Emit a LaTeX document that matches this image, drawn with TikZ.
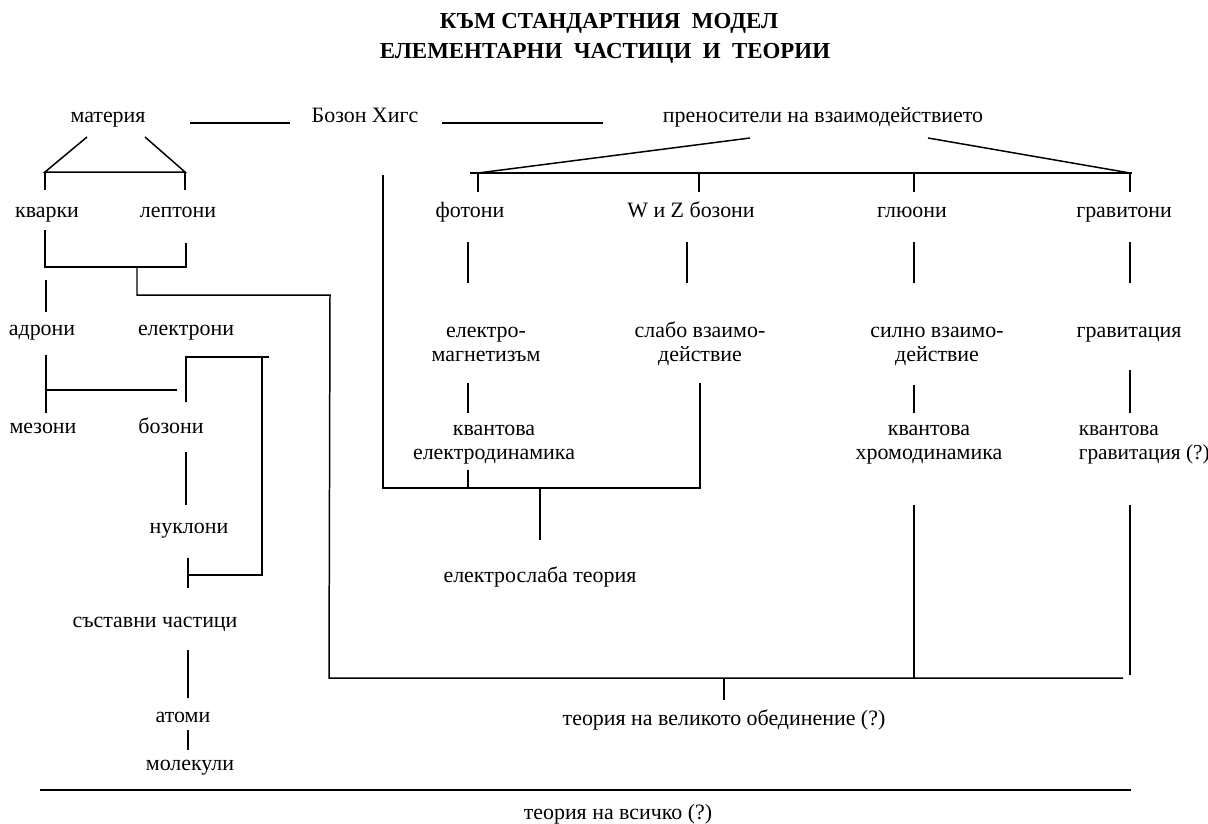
\documentclass[tikz,border=0pt]{standalone}
\usepackage{fontspec}
\setmainfont{Liberation Serif}
\tikzset{
  lbl/.style={font=\fontsize{11}{12}\selectfont, inner sep=0pt, align=center, anchor=base},
  ttl/.style={font=\fontsize{11.5}{13}\selectfont\bfseries, inner sep=0pt, anchor=base}
}
\begin{document}
\begin{tikzpicture}[x=0.5bp, y=-0.5bp, line width=0.75pt]
    \useasboundingbox (0,0) rectangle (1208,823);

    % titles
    \node[ttl] (title) at (609,28) {КЪМ СТАНДАРТНИЯ\ \ МОДЕЛ};
    \node[ttl] (subtitle) at (605,58) {ЕЛЕМЕНТАРНИ\ \ ЧАСТИЦИ\ \ И\ \ ТЕОРИИ};

    % top row
    \node[lbl] (materia) at (108,122) {материя};
    \node[lbl] (higgs) at (365,122) {Бозон Хигс};
    \node[lbl] (nositeli) at (823,122) {преносители на взаимодействието};
    \draw (190,123) -- (290,123);
    \draw (442,123) -- (603,123);

    % matter side
    \node[lbl] (kvarki) at (47,217) {кварки};
    \node[lbl] (leptoni) at (178,217) {лептони};
    \node[lbl] (adroni) at (42,335) {адрони};
    \node[lbl] (elektroni) at (186,335) {електрони};
    \node[lbl] (mezoni) at (43,433) {мезони};
    \node[lbl] (bozoni) at (171,433) {бозони};
    \node[lbl] (nukloni) at (189,533) {нуклони};
    \node[lbl] (sastavni) at (155,627) {съставни частици};
    \node[lbl] (atomi) at (183,722) {атоми};
    \node[lbl] (molekuli) at (190,770) {молекули};

    \coordinate (mL) at (87,137);
    \coordinate (mR) at (145,137);
    \coordinate (qk) at (45,172);
    \coordinate (lp) at (185,172);
    \draw (mL) -- (qk) -- (lp) -- (mR);
    \draw (qk) -- ++(0,18);
    \draw (lp) -- ++(0,18);

    \coordinate (qlL) at (45,267);
    \coordinate (qlM) at (137,267);
    \coordinate (qlR) at (186,267);
    \draw (qlL |- 0,230) -- (qlL) -- (qlR) -- (qlR |- 0,243);
    \draw (qlL) ++(1,13) -- ++(0,32);

    % hadrons
    \coordinate (hx) at (46,390);
    \draw (hx) ++(0,-35) -- ++(0,58);
    \draw (hx) -- (177,390);

    % bracket
    \coordinate (bTL) at (186,357);
    \coordinate (bTR) at (262,357);
    \coordinate (bBR) at (262,575);
    \coordinate (bBL) at (188,575);
    \draw (bTL |- 0,402) -- (bTL) -- ([xshift=3.5bp]bTR);
    \draw (bTR) -- (bBR) -- (bBL);
    \draw (bBL |- 0,558) -- (bBL |- 0,588);
    \draw (186,452) -- (186,505);
    \draw (188,650) -- (188,698);
    \draw (188,730) -- (188,750);

    % carriers
    \node[lbl] (fotoni) at (470,217) {фотони};
    \node[lbl] (wz) at (691,217) {W и Z бозони};
    \node[lbl] (gluoni) at (912,217) {глюони};
    \node[lbl] (gravitoni) at (1124,217) {гравитони};
    \node[lbl] (elmag) at (486,361) {електро-\\магнетизъм};
    \node[lbl] (slabo) at (700,361) {слабо взаимо-\\действие};
    \node[lbl] (silno) at (937,361) {силно взаимо-\\действие};
    \node[lbl] (gravitacia) at (1129,337) {гравитация};
    \node[lbl] (ked) at (494,459) {квантова\\електродинамика};
    \node[lbl] (khd) at (929,459) {квантова\\хромодинамика};
    \node[lbl, font=\fontsize{10.7}{12}\selectfont, align=left, anchor=base west] (kg) at (1078,459) {квантова\\гравитация (?)};
    \node[lbl] (ew) at (540,582) {електрослаба теория};

    \coordinate (cL) at (478,173);
    \coordinate (cR) at (1130,173);
    \draw (750,138) -- (cL);
    \draw (928,138) -- (cR);
    \draw (470,173) -- (1132,173);
    \foreach \x in {478,699,914,1130}
        \draw (\x,173) -- (\x,192);
    \foreach \x in {468,687,914,1130}
        \draw (\x,242) -- (\x,283);
    \draw (468,383) -- (468,413);
    \draw (914,385) -- (914,413);
    \draw (1130,370) -- (1130,413);

    % electroweak
    \coordinate (ewL) at (383,488);
    \coordinate (ewR) at (700,488);
    \draw (ewL |- 0,175) -- (ewL) -- (ewR) -- (ewR |- 0,383);
    \draw (468,470) -- (468,488);
    \draw (ew |- ewL) -- (ew |- 0,540);

    % grand unification
    \node[lbl] (gut) at (724,725) {теория на великото обединение (?)};
    \coordinate (gL) at (329,678);
    \coordinate (gR) at (1123,678);
    \draw (qlM) |- (330,295) -- (gL) -- (gR);
    \draw (914,505) -- (914,678);
    \draw (1130,505) -- (1130,675);
    \draw (gut |- gR) -- (gut |- 0,700);

    % everything
    \node[lbl] (toe) at (618,819) {теория на всичко (?)};
    \draw (40,790) -- (1131,790);
\end{tikzpicture}
\end{document}
